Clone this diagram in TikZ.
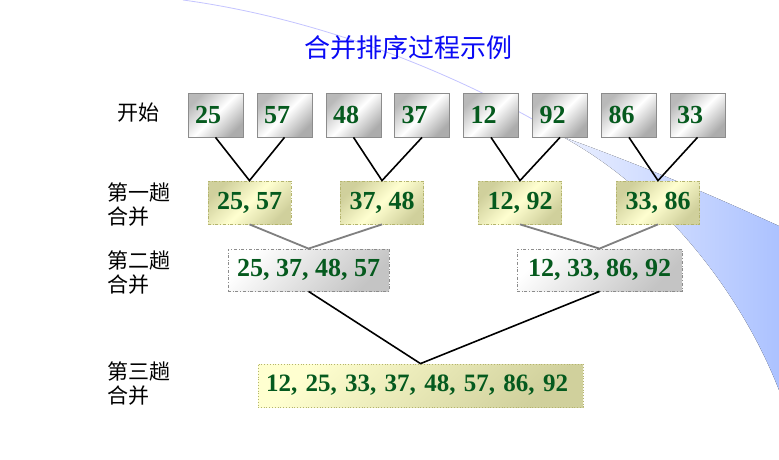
\documentclass[tikz,border=0pt]{standalone}
\usepackage{fontspec}
\setmainfont{Liberation Serif}
\newfontfamily\cjk{Noto Sans CJK SC}
\definecolor{numgreen}{RGB}{5,90,30}
\definecolor{titleblue}{RGB}{10,10,245}
\definecolor{topborder}{RGB}{140,140,140}
\definecolor{ylwborder}{RGB}{180,180,110}
\definecolor{ylwlight}{RGB}{255,255,208}
\definecolor{ylwdark}{RGB}{208,208,156}
\definecolor{grydark}{RGB}{196,196,196}
\definecolor{bandL}{RGB}{234,239,255}
\definecolor{bandR}{RGB}{172,194,255}
\definecolor{arcline}{RGB}{196,196,255}
\begin{document}
\begin{tikzpicture}[x=1pt,y=-1pt,
  num/.style={font=\bfseries\fontsize{26}{26}\selectfont, text=numgreen},
  topbox/.style={num, draw=topborder, line width=0.8pt, minimum width=55pt, minimum height=44pt,
    text width=41pt, inner xsep=7pt, align=left,
    left color=gray!55, right color=gray!65, middle color=white, shading angle=45},
  ylwbox/.style={num, draw=ylwborder, dash dot, line width=0.8pt, minimum width=83pt, minimum height=43pt,
    left color=ylwdark, right color=ylwdark, middle color=ylwlight, shading angle=45},
  grybox/.style={num, draw=topborder, dash dot, line width=0.8pt, minimum height=42pt,
    left color=white, right color=grydark, shading angle=45},
  finbox/.style={num, font=\bfseries\fontsize{25}{25}\selectfont, draw=ylwborder, dotted, line width=0.8pt,
    minimum width=325pt, minimum height=43pt,
    text width=309pt, inner xsep=8pt, align=left,
    left color=ylwlight, right color=ylwdark, shading angle=45},
  lbl/.style={font=\cjk\fontsize{21}{24}\selectfont, align=left, anchor=west, inner sep=0pt},
  blk/.style={draw=black, line width=1.6pt},
  gryline/.style={draw=gray, line width=1.8pt}
]
\useasboundingbox (0,0) rectangle (779,460);
\fill[white] (0,0) rectangle (779,460);
% background decoration
\fill[left color=bandL, right color=bandR]
  (563,137) .. controls (640,165) and (700,190) .. (779,226)
  -- (779,390) .. controls (740,290) and (660,190) .. (563,137) -- cycle;
\draw[arcline, line width=0.8pt] (183,0) .. controls (330,20) and (470,80) .. (563,137);

% title
\node[font=\cjk\fontsize{26}{26}\selectfont, text=titleblue] (title) at (408.5,48) {合并排序过程示例};

% labels
\node[lbl] (l0) at (117,113) {开始};
\node[lbl] (l1) at (107,205) {第一趟\\合并};
\node[lbl] (l2) at (107,273) {第二趟\\合并};
\node[lbl] (l3) at (107,383.5) {第三趟\\合并};

% top boxes
\node[topbox] (t1) at (215.5,115) {25};
\node[topbox] (t2) at (284.5,115) {57};
\node[topbox] (t3) at (353.5,115) {48};
\node[topbox] (t4) at (422,115) {37};
\node[topbox] (t5) at (491,115) {12};
\node[topbox] (t6) at (560,115) {92};
\node[topbox] (t7) at (629,115) {86};
\node[topbox] (t8) at (697.5,115) {33};

% first pass
\node[ylwbox] (y1) at (249.5,202.5) {25, 57};
\node[ylwbox] (y2) at (382,202.5) {37, 48};
\node[ylwbox] (y3) at (520,202.5) {12, 92};
\node[ylwbox] (y4) at (658,202.5) {33, 86};

% second pass
\node[grybox, minimum width=161pt] (g1) at (308.5,270) {25, 37, 48, 57};
\node[grybox, minimum width=165pt] (g2) at (599.5,270) {12, 33, 86, 92};

% third pass
\node[finbox] (f) at (420.5,385.5) {12, 25, 33, 37, 48, 57, 86, 92};

% connectors
\draw[blk] (t1.south) -- (y1.north) -- (t2.south);
\draw[blk] (t3.south) -- (y2.north) -- (t4.south);
\draw[blk] (t5.south) -- (y3.north) -- (t6.south);
\draw[blk] (t7.south) -- (y4.north) -- (t8.south);
\draw[gryline] (y1.south) -- (g1.north) -- (y2.south);
\draw[gryline] (y3.south) -- (g2.north) -- (y4.south);
\draw[blk] (g1.south) -- (f.north) -- (g2.south);
\end{tikzpicture}
\end{document}
